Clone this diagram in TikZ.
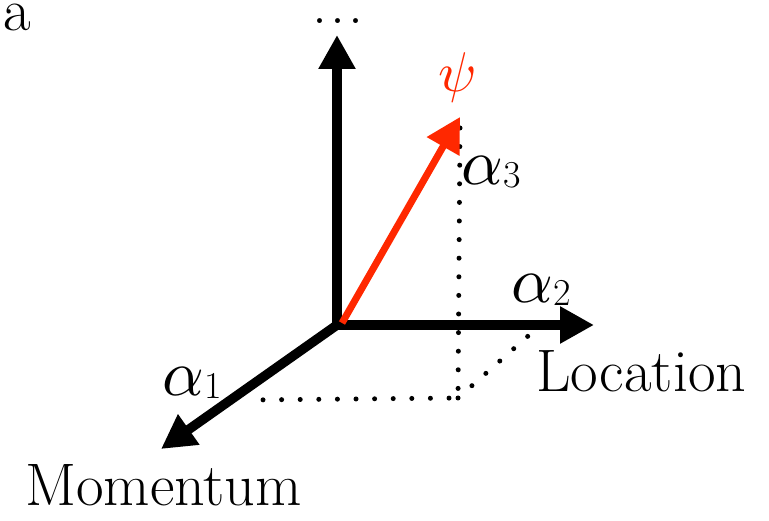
\documentclass[tikz,border=0pt]{standalone}
\usepackage{fontspec}
\usetikzlibrary{arrows.meta}
\definecolor{psired}{RGB}{255,40,0}
\newcommand\comp[1]{\scalebox{6.5}{$\alpha$}\raisebox{-3pt}{\fontsize{38}{40}\selectfont #1}}

\begin{document}
\begin{tikzpicture}[x=1pt, y=-1pt,
	axis/.style={line width=9.5pt, line cap=rect, -{Triangle[length=34pt,width=35pt]}},
	proj/.style={line width=5pt, line cap=round, dash pattern=on 0pt off 18.6pt},
	lbl/.style={inner sep=0pt, font=\fontsize{60}{62}\selectfont}]
	\useasboundingbox (0,0) rectangle (769,521);
	% axes
	\coordinate (O) at (337,325);
	\coordinate (up) at (337,35);
	\coordinate (right) at (594,325);
	\coordinate (down) at (161,449);
	\draw[axis] (O) -- (up);
	\draw[axis] (O) -- (right);
	\draw[axis] (O) -- (down);
	% projections of the state
	\coordinate (top) at (460,128);
	\coordinate (foot) at (458,398);
	\coordinate (end1) at (247,400);
	\coordinate (end2) at (536,329);
	\draw[proj] (top) -- (foot) -- (end1);
	\draw[proj] (foot) -- (end2);
	% state vector
	\coordinate (psi) at (460,117);
	\draw[line width=7pt, color=psired, -{Triangle[length=34pt,width=36pt]}] (342,323) -- (psi);
	% labels
	\node[lbl, anchor=base west] (panel) at (3,31) {a};
	\node[lbl, anchor=base] (more) at (338,24) {.\kern3pt.\kern3pt.};
	\node[inner sep=0pt, color=psired] (psilbl) at (458,78) {\scalebox{5.6}{$\psi$}};
	\node[inner sep=0pt] (a3) at (491,172) {\comp{3}};
	\node[inner sep=0pt] (a2) at (541,290) {\comp{2}};
	\node[inner sep=0pt] (a1) at (192,383) {\comp{1}};
	\node[lbl, anchor=base west] (loc) at (536,392) {Location};
	\node[lbl, anchor=base west] (mom) at (25,505) {Momentum};
\end{tikzpicture}
\end{document}
